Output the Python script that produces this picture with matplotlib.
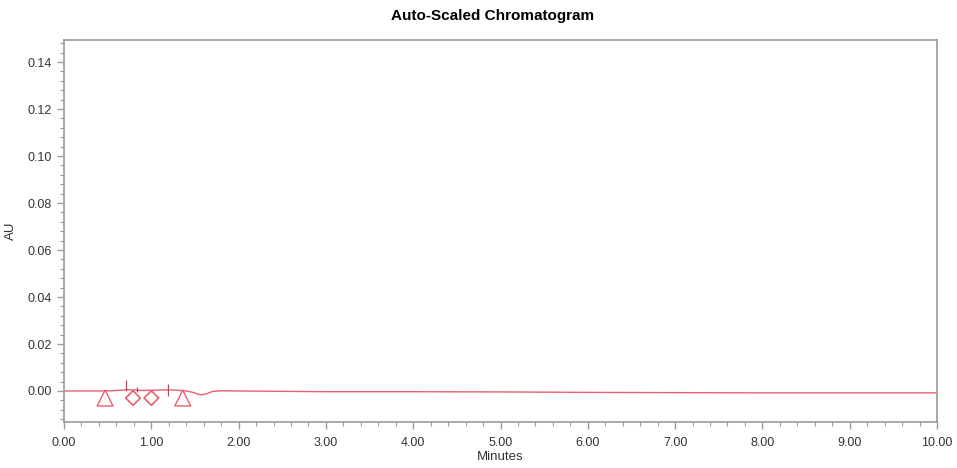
import numpy as np
import matplotlib
matplotlib.use('Agg')
from matplotlib import pyplot as plt
from matplotlib.ticker import MultipleLocator, FormatStrFormatter

plt.rcParams['font.family'] = ['Liberation Sans', 'DejaVu Sans']

# trace
time_min = [0.0, 0.40, 0.55, 0.65, 0.72, 0.80, 0.90, 1.00, 1.10, 1.20, 1.30, 1.40,
            1.48, 1.53, 1.58, 1.64, 1.70, 1.80, 2.00, 3.00, 4.00, 5.00, 6.00, 7.00,
            8.00, 9.00, 10.00]
au = [0.0000, 0.0000, 0.0001, 0.0003, 0.0006, 0.0004, 0.0002, 0.0003, 0.0004, 0.0005,
      0.0003, 0.0000, -0.0006, -0.0014, -0.0016, -0.0011, -0.0002, 0.0001, 0.0000,
      -0.0003, -0.0003, -0.0004, -0.0006, -0.0007, -0.0008, -0.0008, -0.0008]

# peak start/end (triangles), peak apex (diamonds), tick marks
tri_x = [0.47, 1.36]
tri_y = [-0.0030, -0.0030]
dia_x = [0.79, 1.00]
dia_y = [-0.0030, -0.0030]
mark_x = [0.71, 0.84, 1.19]
mark_lo = [0.0000, -0.0006, -0.0022]
mark_hi = [0.0047, 0.0016, 0.0030]

red = '#e8606e'
grey = '#9a9a9a'

fig = plt.figure(figsize=(9.57, 4.68), dpi=100)
ax = fig.add_axes([0.0669, 0.0983, 0.9122, 0.8162])

ax.plot(time_min, au, color=red, lw=1.0)
ax.scatter(tri_x, tri_y, marker='^', s=130, facecolors='none', edgecolors=red, linewidths=1.0)
ax.scatter(dia_x, dia_y, marker='D', s=55, facecolors='none', edgecolors=red, linewidths=1.2)
ax.vlines(mark_x, mark_lo, mark_hi, color='#b05060', lw=0.9)

ax.set_xlim(0, 10)
ax.set_ylim(-0.0132, 0.1494)
ax.xaxis.set_major_locator(MultipleLocator(1))
ax.xaxis.set_minor_locator(MultipleLocator(0.2))
ax.yaxis.set_major_locator(MultipleLocator(0.02))
ax.yaxis.set_minor_locator(MultipleLocator(0.004))
ax.xaxis.set_major_formatter(FormatStrFormatter('%.2f'))
ax.yaxis.set_major_formatter(FormatStrFormatter('%.2f'))

for s in ax.spines.values():
    s.set_color(grey)
    s.set_linewidth(1.2)
ax.tick_params(which='major', length=5, color=grey, labelsize=9, labelcolor='#333333', width=1)
ax.tick_params(which='minor', length=3, color=grey, width=0.8)
ax.tick_params(axis='x', pad=6)

ax.set_xlabel('Minutes', fontsize=9.5, color='#333333', labelpad=1)
ax.set_ylabel('AU', fontsize=9.5, color='#333333', labelpad=8)
fig.suptitle('Auto-Scaled Chromatogram', fontsize=11, fontweight='bold', y=0.98, x=0.515)

plt.savefig('out.png', dpi=100)
